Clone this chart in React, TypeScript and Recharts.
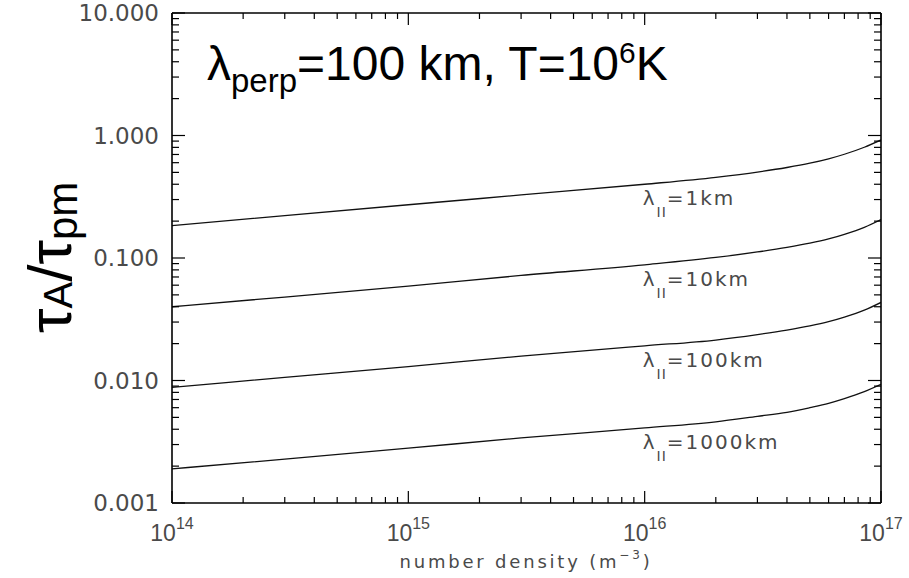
import { LineChart, Line, XAxis, YAxis, LabelList } from 'recharts'

// number density (m^-3) sample points
const density = [1e14, 3e14, 1e15, 3e15, 1e16, 2e16, 3e16, 4e16, 5e16, 6e16, 7e16, 8.5e16, 1e17]

// tau_A / tau_pm for each lambda_parallel
const lam1 = [0.184, 0.222, 0.272, 0.327, 0.4, 0.456, 0.503, 0.548, 0.594, 0.645, 0.703, 0.802, 0.92]
const lam10 = [0.04, 0.048, 0.059, 0.072, 0.088, 0.101, 0.112, 0.122, 0.132, 0.143, 0.156, 0.178, 0.206]
const lam100 = [0.0088, 0.0106, 0.013, 0.0158, 0.0192, 0.0214, 0.0237, 0.0258, 0.0279, 0.0302, 0.0329, 0.0375, 0.0434]
const lam1000 = [0.0019, 0.00228, 0.0028, 0.0034, 0.0041, 0.0046, 0.0051, 0.0055, 0.006, 0.0065, 0.0071, 0.0081, 0.0093]

const seriesKeys = ['l1', 'l10', 'l100', 'l1000']
const seriesLabels = ['1km', '10km', '100km', '1000km']
const labelIndex = 4 // labels hang under the curve at 10^16

const xMajor = [1e14, 1e15, 1e16, 1e17]
const yMajor = [0.001, 0.01, 0.1, 1, 10]

const data = density.map((n, i) => ({ n, l1: lam1[i], l10: lam10[i], l100: lam100[i], l1000: lam1000[i] }))

function withMinors(majors: number[]) {
    const out: number[] = []
    majors.forEach((m, i) => {
        out.push(m)
        if (i < majors.length - 1) for (let k = 2; k <= 9; k++) out.push(m * k)
    })
    return out
}
const xTicks = withMinors(xMajor)
const yTicks = withMinors(yMajor)

const isMajor = (v: number) => Math.abs(Math.log10(v) - Math.round(Math.log10(v))) < 1e-6

const tickFont = { fontFamily: 'DejaVu Sans', fill: '#4a4a4a' }

const BottomTick = ({ x, y, payload }: any) => {
    const v = payload.value
    const major = isMajor(v)
    return (
        <g>
            <line x1={x} x2={x} y1={y} y2={y - (major ? 12 : 6)} stroke="#000" strokeWidth={1.2} />
            {major && (
                <text x={x} y={y + 38} textAnchor="middle" fontSize={23} fontFamily="Liberation Sans" fill="#4a4a4a">
                    10<tspan fontSize={16} dy={-12}>{Math.round(Math.log10(v))}</tspan>
                </text>
            )}
        </g>
    )
}

const TopTick = ({ x, y, payload }: any) => {
    const major = isMajor(payload.value)
    return <line x1={x} x2={x} y1={y} y2={y + (major ? 12 : 6)} stroke="#000" strokeWidth={1.2} />
}

const LeftTick = ({ x, y, payload }: any) => {
    const v = payload.value
    const major = isMajor(v)
    return (
        <g>
            <line x1={x} x2={x + (major ? 13 : 7)} y1={y} y2={y} stroke="#000" strokeWidth={1.2} />
            {major && (
                <text x={x - 13} y={y + 8} textAnchor="end" fontSize={23} {...tickFont}>
                    {v.toFixed(3)}
                </text>
            )}
        </g>
    )
}

const RightTick = ({ x, y, payload }: any) => {
    const major = isMajor(payload.value)
    return <line x1={x} x2={x - (major ? 13 : 7)} y1={y} y2={y} stroke="#000" strokeWidth={1.2} />
}

const curveLabel = (text: string) => (props: any) => {
    const { x, y, index } = props
    if (index !== labelIndex) return null
    return (
        <text x={x - 2} y={y + 21} fontSize={20} {...tickFont} letterSpacing={2}>
            λ<tspan fontSize={14} dy={12} letterSpacing={1}>II</tspan>
            <tspan dy={-12}>={text}</tspan>
        </text>
    )
}

const frame = { stroke: '#000', strokeWidth: 1.6 }

export default function App() {
    return (
        <div style={{ position: 'absolute', left: 0, top: 0, width: 909, height: 578, background: '#fff' }}>
            <LineChart width={909} height={578} data={data} margin={{ top: 12, right: 27, left: 0, bottom: 0 }}>
                <XAxis
                    dataKey="n"
                    type="number"
                    scale="log"
                    domain={[1e14, 1e17]}
                    ticks={xTicks}
                    interval={0}
                    height={75}
                    tickSize={0}
                    tickMargin={0}
                    tickLine={false}
                    tick={<BottomTick />}
                    axisLine={frame}
                    allowDataOverflow
                />
                <XAxis
                    xAxisId="top"
                    orientation="top"
                    dataKey="n"
                    type="number"
                    scale="log"
                    domain={[1e14, 1e17]}
                    ticks={xTicks}
                    interval={0}
                    height={1}
                    tickSize={0}
                    tickMargin={0}
                    tickLine={false}
                    tick={<TopTick />}
                    axisLine={frame}
                    allowDataOverflow
                />
                <YAxis
                    type="number"
                    scale="log"
                    domain={[0.001, 10]}
                    ticks={yTicks}
                    interval={0}
                    width={172}
                    tickSize={0}
                    tickMargin={0}
                    tickLine={false}
                    tick={<LeftTick />}
                    axisLine={frame}
                    allowDataOverflow
                />
                <YAxis
                    yAxisId="right"
                    orientation="right"
                    type="number"
                    scale="log"
                    domain={[0.001, 10]}
                    ticks={yTicks}
                    interval={0}
                    width={1}
                    tickSize={0}
                    tickMargin={0}
                    tickLine={false}
                    tick={<RightTick />}
                    axisLine={frame}
                    allowDataOverflow
                />
                {seriesKeys.map((k, i) => (
                    <Line
                        key={k}
                        dataKey={k}
                        type="monotone"
                        stroke="#111"
                        strokeWidth={1.3}
                        dot={false}
                        isAnimationActive={false}
                    >
                        <LabelList dataKey={k} content={curveLabel(seriesLabels[i])} />
                    </Line>
                ))}
            </LineChart>
            <svg width={909} height={578} style={{ position: 'absolute', left: 0, top: 0, pointerEvents: 'none' }}>
                <text x={207} y={80} fontFamily="Liberation Sans" fontSize={48} fill="#000">
                    λ<tspan fontSize={33} dy={12}>perp</tspan>
                    <tspan dy={-12}>=100 km, T=10</tspan>
                    <tspan fontSize={30} dy={-17}>6</tspan>
                    <tspan dy={17}>K</tspan>
                </text>
                <text transform="translate(71,333) rotate(-90)" fontFamily="Liberation Sans" fontSize={62} fill="#000">
                    τ<tspan fontSize={40} dy={1}>A</tspan>
                    <tspan dy={-1}>/τ</tspan>
                    <tspan fontSize={42} dy={6}>pm</tspan>
                </text>
                <text x={526} y={568} textAnchor="middle" fontSize={18} letterSpacing={2.8} {...tickFont}>
                    number density (m<tspan fontSize={12} dy={-9}>−3</tspan>
                    <tspan dy={9}>)</tspan>
                </text>
            </svg>
        </div>
    )
}
